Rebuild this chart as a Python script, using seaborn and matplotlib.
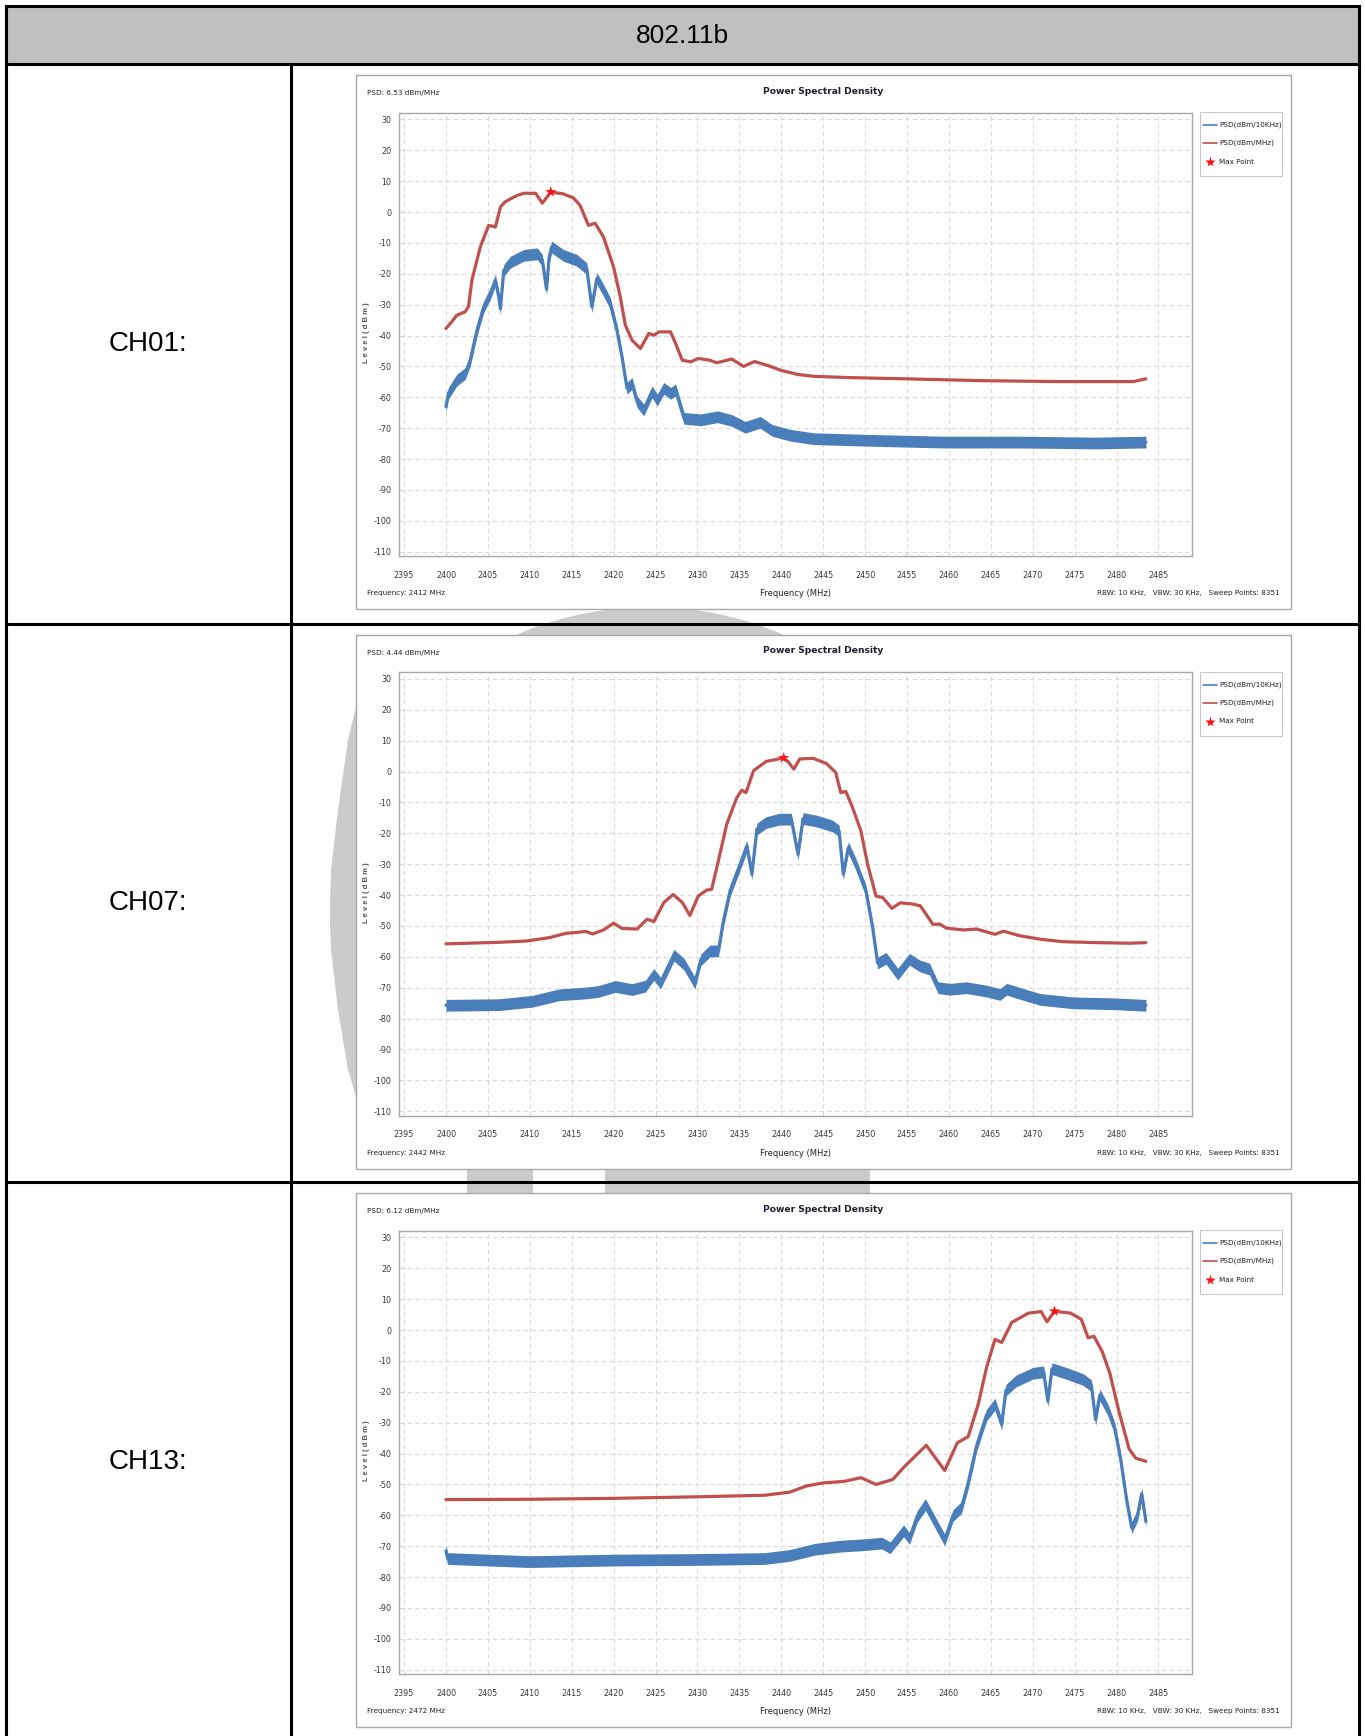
import numpy as np
import matplotlib
matplotlib.use("Agg")
import matplotlib.pyplot as plt
import seaborn as sns
from matplotlib.patches import Rectangle, Ellipse, Polygon
from matplotlib.lines import Line2D
from matplotlib.transforms import Affine2D
from matplotlib.ticker import MultipleLocator

# ---------------- data ----------------
header_title = "802.11b"
channel_labels = ["CH01:", "CH07:", "CH13:"]
psd_texts = ["PSD: 6.53 dBm/MHz", "PSD: 4.44 dBm/MHz", "PSD: 6.12 dBm/MHz"]
freq_texts = ["Frequency: 2412 MHz", "Frequency: 2442 MHz", "Frequency: 2472 MHz"]
max_freq = [2412.5, 2440.3, 2472.6]
max_level = [6.53, 4.44, 6.12]

ch01_red_f = [2400.0, 2400.7, 2401.3, 2402.3, 2402.7, 2403.1, 2404.1, 2405.1, 2405.9, 2406.5,
              2407.0, 2407.7, 2408.5, 2409.3, 2410.7, 2411.5, 2412.5, 2414.0, 2415.2, 2416.0,
              2417.0, 2417.8, 2418.8, 2420.0, 2420.8, 2421.4, 2422.2, 2423.2, 2424.2, 2424.8,
              2425.4, 2426.8, 2427.4, 2428.2, 2429.2, 2430.1, 2431.5, 2432.3, 2434.1, 2435.5,
              2436.8, 2438.4, 2440.0, 2442.0, 2443.9, 2448.0, 2454.8, 2463.9, 2473.0, 2482.0,
              2483.5]
ch01_red_db = [-37.7, -35.5, -33.4, -32.3, -30.5, -22.0, -11.3, -4.3, -4.8, 1.6,
               3.2, 4.3, 5.4, 6.1, 6.1, 2.9, 6.5, 5.9, 4.6, 2.2,
               -4.3, -3.6, -8.1, -17.8, -27.5, -36.6, -41.5, -44.2, -39.3, -39.9,
               -38.8, -38.8, -42.6, -48.0, -48.5, -47.4, -48.0, -48.8, -47.6, -50.0,
               -48.4, -49.7, -51.3, -52.6, -53.2, -53.6, -54.0, -54.6, -54.9, -54.9,
               -54.0]
ch01_blue_f = [2400.0, 2400.3, 2401.3, 2402.3, 2402.9, 2403.7, 2404.5, 2405.3, 2405.9, 2406.3,
               2406.5, 2406.9, 2407.7, 2409.3, 2410.9, 2411.5, 2412.0, 2412.3, 2412.6, 2414.0,
               2415.6, 2416.8, 2417.4, 2418.0, 2418.8, 2419.6, 2420.4, 2421.0, 2421.6, 2422.2,
               2422.8, 2423.6, 2424.6, 2425.2, 2426.0, 2426.8, 2427.4, 2428.4, 2430.4, 2432.4,
               2434.1, 2435.7, 2437.5, 2438.9, 2441.1, 2443.9, 2450.2, 2459.3, 2468.4, 2477.5,
               2483.5]
ch01_blue_db = [-63.0, -58.7, -54.4, -52.3, -48.0, -38.3, -30.7, -26.4, -22.1, -27.5,
                -31.3, -18.9, -16.2, -14.0, -13.5, -15.6, -25.0, -15.0, -11.3, -14.0,
                -15.6, -18.3, -30.7, -21.5, -25.3, -29.6, -38.3, -46.9, -57.1, -55.5,
                -61.4, -64.1, -58.2, -60.9, -57.1, -58.7, -57.6, -66.8, -67.3, -66.3,
                -67.5, -69.7, -68.1, -70.7, -72.3, -73.4, -73.9, -74.5, -74.5, -74.8,
                -74.5]

ch07_red_f = [2400.0, 2406.3, 2409.5, 2412.3, 2414.3, 2416.7, 2417.5, 2418.8, 2420.0, 2421.0,
              2422.8, 2424.0, 2424.8, 2426.0, 2427.1, 2428.2, 2429.1, 2430.1, 2431.1, 2431.7,
              2432.5, 2433.5, 2434.7, 2435.3, 2435.8, 2436.7, 2438.2, 2440.2, 2440.8, 2441.5,
              2442.2, 2443.8, 2445.4, 2446.5, 2447.1, 2447.7, 2448.5, 2449.5, 2450.3, 2451.3,
              2452.1, 2453.2, 2454.2, 2455.7, 2456.6, 2458.1, 2458.9, 2459.7, 2461.7, 2463.3,
              2465.5, 2466.5, 2468.5, 2470.9, 2473.6, 2477.6, 2481.6, 2483.5]
ch07_red_db = [-55.8, -55.3, -54.9, -53.8, -52.4, -51.8, -52.6, -51.3, -49.1, -50.8,
               -51.0, -47.8, -48.6, -42.4, -39.8, -42.4, -46.6, -40.3, -38.4, -38.1,
               -28.9, -17.0, -8.4, -6.0, -6.8, 0.3, 3.3, 4.4, 3.3, 0.8,
               4.1, 4.3, 2.6, -0.3, -6.8, -6.4, -11.6, -19.2, -30.0, -40.3,
               -40.8, -44.3, -42.5, -42.9, -43.5, -49.5, -49.4, -50.7, -51.3, -51.0,
               -52.7, -51.7, -53.2, -54.3, -55.1, -55.4, -55.6, -55.4]
ch07_blue_f = [2400.0, 2406.3, 2410.3, 2413.5, 2416.7, 2418.2, 2420.2, 2422.2, 2423.8, 2424.8,
               2425.6, 2427.2, 2428.4, 2429.7, 2430.4, 2431.5, 2432.5, 2433.1, 2433.9, 2435.1,
               2435.9, 2436.5, 2437.1, 2438.2, 2439.8, 2441.2, 2442.0, 2442.6, 2444.2, 2446.1,
               2446.9, 2447.4, 2448.0, 2448.9, 2450.1, 2450.9, 2451.5, 2452.5, 2453.9, 2455.3,
               2456.5, 2457.7, 2458.7, 2460.1, 2462.1, 2464.5, 2466.1, 2466.9, 2468.9, 2470.9,
               2474.8, 2479.6, 2483.5]
ch07_blue_db = [-75.7, -75.5, -74.4, -72.3, -71.7, -71.2, -69.6, -70.6, -69.5, -65.7,
                -68.5, -59.5, -62.4, -68.5, -61.0, -58.1, -58.1, -48.4, -38.6, -30.0,
                -24.1, -33.2, -18.6, -16.5, -15.4, -15.4, -26.8, -15.2, -16.0, -17.6,
                -19.2, -33.2, -24.6, -30.0, -38.6, -50.5, -62.0, -60.5, -65.6, -60.8,
                -62.9, -64.0, -70.0, -70.5, -70.0, -71.1, -72.2, -70.5, -72.2, -73.8,
                -74.9, -75.2, -75.7]

ch13_red_f = [2400.0, 2410.0, 2420.0, 2430.0, 2438.0, 2441.0, 2443.0, 2445.0, 2447.5, 2449.5,
              2451.3, 2453.3, 2454.6, 2457.3, 2459.5, 2461.0, 2462.3, 2463.5, 2464.5, 2465.5,
              2466.3, 2467.5, 2469.5, 2471.0, 2471.7, 2472.6, 2474.5, 2475.8, 2476.6, 2477.3,
              2478.3, 2479.2, 2480.3, 2481.5, 2482.3, 2483.5]
ch13_red_db = [-54.9, -54.8, -54.5, -54.0, -53.5, -52.5, -50.5, -49.5, -49.0, -47.8,
               -50.0, -48.4, -44.5, -37.3, -45.5, -36.5, -34.5, -24.0, -12.0, -3.0,
               -4.0, 2.5, 5.5, 6.0, 2.7, 6.1, 5.5, 3.5, -2.5, -2.0,
               -7.0, -14.0, -26.5, -38.5, -41.5, -42.5]
ch13_blue_f = [2400.0, 2400.2, 2410.0, 2420.0, 2430.0, 2438.0, 2441.0, 2444.0, 2447.0, 2450.0,
               2452.0, 2453.0, 2454.6, 2455.3, 2456.2, 2457.2, 2458.2, 2459.5, 2460.5, 2461.5,
               2462.3, 2463.3, 2464.5, 2465.5, 2466.3, 2466.8, 2468.0, 2470.0, 2471.3, 2471.8,
               2472.3, 2474.0, 2476.0, 2477.0, 2477.5, 2478.0, 2479.0, 2479.8, 2480.5, 2481.2,
               2481.8, 2482.5, 2483.0, 2483.5]
ch13_blue_db = [-71.5, -74.0, -75.0, -74.5, -74.3, -74.0, -73.0, -71.0, -70.0, -69.5,
                -69.0, -70.5, -65.0, -67.5, -60.5, -56.5, -61.5, -68.0, -60.0, -57.5,
                -49.5, -37.5, -27.5, -24.0, -30.5, -19.5, -16.5, -14.0, -13.5, -23.0,
                -12.5, -14.0, -16.0, -18.0, -29.0, -21.0, -26.0, -32.0, -42.0, -55.0,
                -64.0, -60.0, -53.0, -62.0]

red_f = [ch01_red_f, ch07_red_f, ch13_red_f]
red_db = [ch01_red_db, ch07_red_db, ch13_red_db]
blue_f = [ch01_blue_f, ch07_blue_f, ch13_blue_f]
blue_db = [ch01_blue_db, ch07_blue_db, ch13_blue_db]

legend_labels = ["PSD(dBm/10KHz)", "PSD(dBm/MHz)", "Max Point"]
y_ticks = list(range(30, -111, -10))
x_ticks = list(range(2395, 2486, 5))

# ---------------- style ----------------
W, H = 1365, 1736
BLUE = "#4a7ebb"
RED = "#c0504d"
NARROW = ["Liberation Sans Narrow", "DejaVu Sans"]
sns.set_style("white")
plt.rcParams["font.family"] = ["Liberation Sans", "DejaVu Sans"]
plt.rcParams["axes.unicode_minus"] = False

fig = plt.figure(figsize=(W / 100, H / 100), dpi=100)
fig.patch.set_facecolor("white")
px = Affine2D().scale(1 / W, -1 / H).translate(0, 1) + fig.transFigure


def fx(x):
    return x / W


def fy(y):
    return 1 - y / H


# watermark (behind panels)
wm = "#cbcbcb"
fig.add_artist(Ellipse((650, 912), 640, 610, transform=px, facecolor=wm, edgecolor="none", zorder=-5))
fig.add_artist(Polygon([(360, 690), (348, 740), (338, 810), (331, 870), (330, 910), (331, 950),
                        (338, 1010), (348, 1070), (360, 1110), (430, 1110), (430, 690)],
                       closed=True, transform=px, facecolor=wm, edgecolor="none", zorder=-5))
fig.add_artist(Rectangle((467, 1150), 66, 50, transform=px, facecolor=wm, edgecolor="none", zorder=-5))
fig.add_artist(Rectangle((533, 1140), 72, 60, transform=px, facecolor="white", edgecolor="none", zorder=-4))
fig.add_artist(Polygon([(605, 1200), (605, 1172), (700, 1167), (800, 1160), (870, 1150), (870, 1200)],
                       closed=True, transform=px, facecolor=wm, edgecolor="none", zorder=-4))

# table
fig.add_artist(Rectangle((6, 6), 1353, 58, transform=px, facecolor="#c0c0c0", edgecolor="none", zorder=-3))
for (x0, y0, x1, y1) in [(6, 6, 1359, 6), (6, 64, 1359, 64), (6, 624, 1359, 624), (6, 1182, 1359, 1182),
                         (6, 6, 6, 1736), (1359, 6, 1359, 1736), (291, 64, 291, 1736)]:
    fig.add_artist(Line2D([x0, x1], [y0, y1], transform=px, color="black", lw=2.2, zorder=6,
                          solid_capstyle="projecting"))
fig.text(fx(682), fy(36), header_title, ha="center", va="center", fontsize=19, color="black",
         family=["Liberation Sans Narrow", "Liberation Sans", "DejaVu Sans"])

offsets = [0, 559.5, 1118]
row_centers = [344, 903, 1462]

for i in range(3):
    off = offsets[i]
    fig.text(fx(148), fy(row_centers[i]), channel_labels[i], ha="center", va="center",
             fontsize=20, color="black")
    # panel
    fig.add_artist(Rectangle((356, 75 + off), 935, 534, transform=px, facecolor="white",
                             edgecolor="#a8a8ac", lw=1.0, zorder=-2))
    ax = fig.add_axes([fx(399), fy(556 + off), (1192 - 399) / W, (556 - 112.7) / H])
    ax.set_facecolor("white")
    ax.set_xlim(2394.4, 2489.0)
    ax.set_ylim(-111.4, 32.2)
    ax.xaxis.set_minor_locator(MultipleLocator(1))
    ax.yaxis.set_minor_locator(MultipleLocator(2))
    ax.set_xticks(x_ticks)
    ax.set_yticks(y_ticks)
    ax.grid(True, which="major", ls=(0, (4, 3)), color="#dadada", lw=0.8)
    ax.set_axisbelow(True)
    for s in ax.spines.values():
        s.set_color("#a8a8b0")
        s.set_linewidth(1.0)
    ax.tick_params(axis="both", which="major", direction="out", length=3, width=0.8,
                   color="#a0a0a8", labelsize=5.8, labelcolor="#3a3a3a")
    ax.tick_params(axis="both", which="minor", direction="out", length=1.8, width=0.6, color="#b0b0b8")
    ax.tick_params(axis="y", pad=2.5)
    ax.tick_params(axis="x", pad=7.5)
    for lab in ax.get_xticklabels() + ax.get_yticklabels():
        lab.set_family(NARROW)

    # blue band + line
    bf = np.array(blue_f[i])
    bd = np.array(blue_db[i])
    ax.fill_between(bf, bd - 1.9, bd + 1.9, color=BLUE, lw=0, zorder=2)
    sns.lineplot(x=bf, y=bd, ax=ax, color=BLUE, lw=2.3, zorder=3, sort=False)
    sns.lineplot(x=red_f[i], y=red_db[i], ax=ax, color=RED, lw=2.3, zorder=4, sort=False)
    sns.scatterplot(x=[max_freq[i]], y=[max_level[i]], ax=ax, marker="*", s=70, color="#ff1010",
                    edgecolor="none", zorder=5)
    ax.set_xlabel("")
    ax.set_ylabel("")

    # panel texts
    fig.text(fx(367), fy(93 + off), psd_texts[i], ha="left", va="center", fontsize=5.2,
             color="#222222", family=NARROW)
    fig.text(fx(823), fy(91 + off), "Power Spectral Density", ha="center", va="center",
             fontsize=6.6, fontweight="bold", color="#1e1e30", family=NARROW)
    fig.text(fx(367), fy(333 + off), "L e v e l ( d B m )", ha="center", va="center", rotation=90,
             fontsize=5.5, fontweight="bold", color="#555560")
    fig.text(fx(367), fy(593 + off), freq_texts[i], ha="left", va="center", fontsize=5.2,
             color="#222222", family=NARROW)
    fig.text(fx(796), fy(594 + off), "Frequency (MHz)", ha="center", va="center", fontsize=6,
             color="#222222", family=NARROW)
    fig.text(fx(1280), fy(593 + off), "RBW: 10 KHz,   VBW: 30 KHz,   Sweep Points: 8351",
             ha="right", va="center", fontsize=5.2, color="#222222", family=NARROW)

    # legend
    fig.add_artist(Rectangle((1200, 112 + off), 82, 64, transform=px, facecolor="white",
                             edgecolor="#c8c8cc", lw=0.8, zorder=1))
    fig.add_artist(Line2D([1203, 1217], [125 + off, 125 + off], transform=px, color=BLUE, lw=1.2, zorder=2))
    fig.add_artist(Line2D([1203, 1217], [143 + off, 143 + off], transform=px, color=RED, lw=1.2, zorder=2))
    fig.add_artist(Line2D([1210], [162 + off], transform=px, marker="*", ms=8, color="#ff1010",
                          mec="none", lw=0, zorder=2))
    for k, yy in enumerate([125, 143, 162]):
        fig.text(fx(1219), fy(yy + off), legend_labels[k], ha="left", va="center", fontsize=5.2,
                 color="#222222", family=NARROW)

fig.savefig("out.png", dpi=100, facecolor="white")
